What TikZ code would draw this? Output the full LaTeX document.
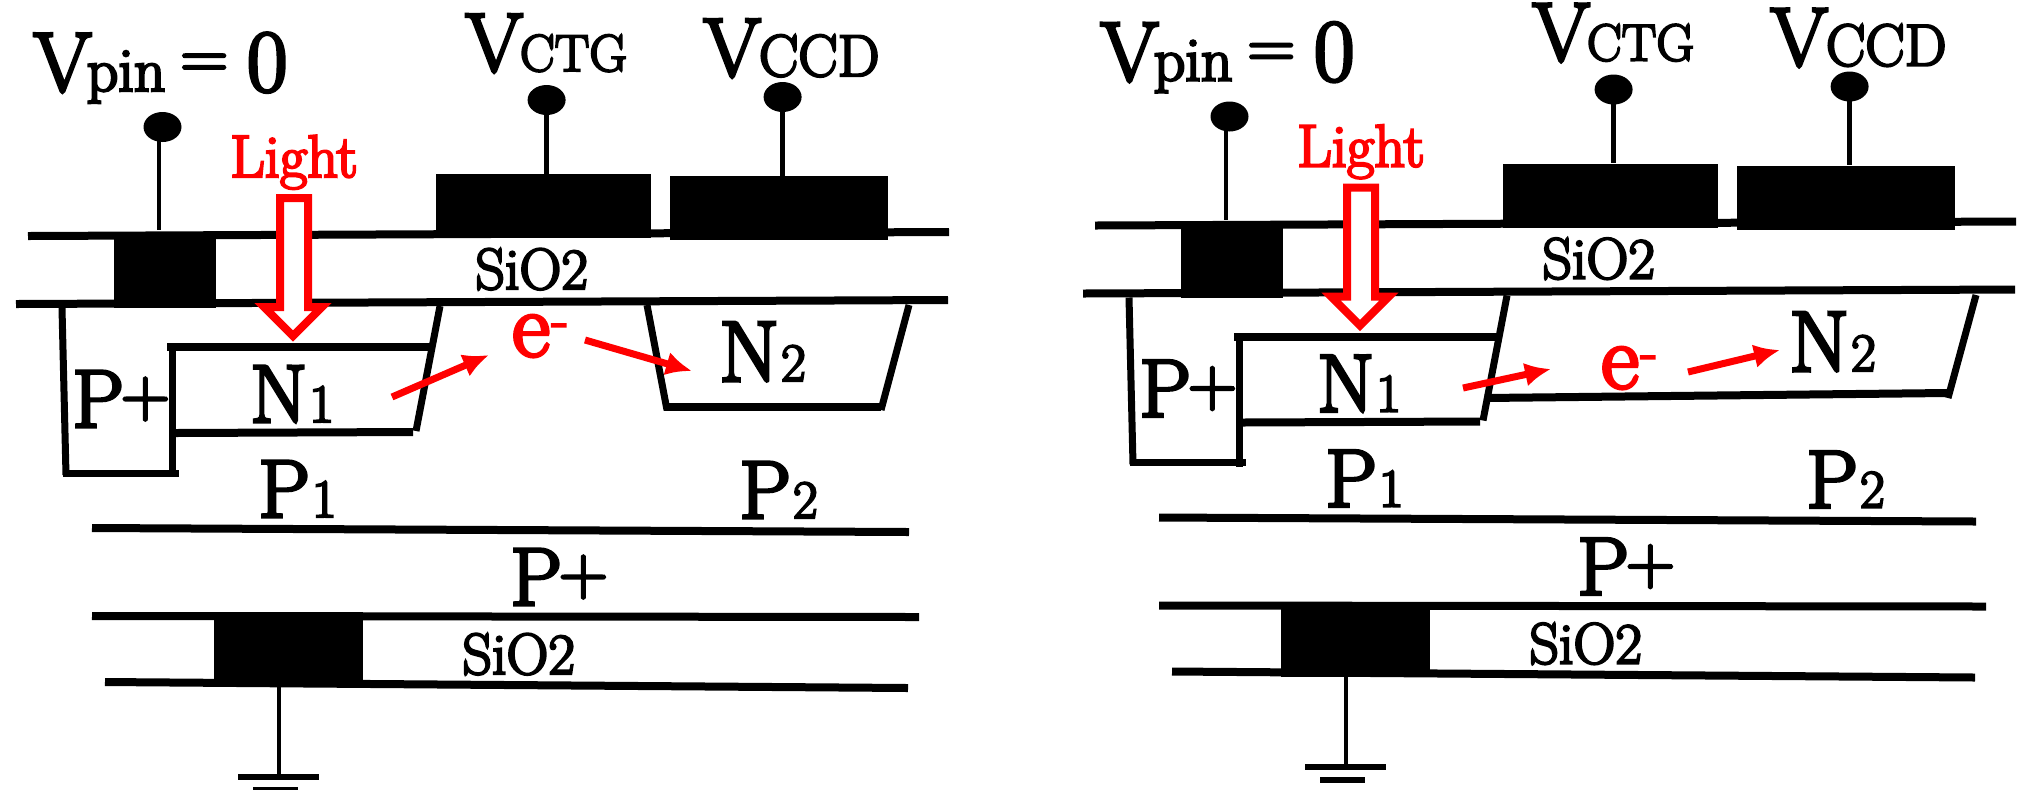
\documentclass[tikz,border=0pt]{standalone}
\usepackage{fontspec}
\setmainfont{Latin Modern Roman}
\newfontfamily\fb{Latin Modern Roman}[FakeBold=4]
\usetikzlibrary{arrows.meta,shapes.geometric}
\newcommand{\fs}[1]{\fontsize{#1}{#1}\selectfont}
\newcommand{\Pplus}{P\kern-1.5pt\raisebox{5.5pt}{\fs{34}+}}
\newcommand{\elec}{{\fs{46}e}\kern1pt\raisebox{9.5pt}{\fs{27}-}}
\tikzset{
  x=0.5pt,y=-0.5pt,
  oxide/.style={line width=4pt},
  wall/.style={line width=3.5pt},
  wire/.style={line width=2.2pt},
  gate/.style={fill=black,draw=none,inner sep=0pt,rectangle},
  dot/.style={ellipse,fill=black,draw=none,inner sep=0pt,minimum width=19pt,minimum height=15pt},
  lbl/.style={anchor=base west,inner sep=0pt,text=black,font=\fb\fs{41}},
  sub/.style={lbl,font=\fb\fs{27}},
  ox/.style={lbl,font=\fb\fs{29}},
  redtxt/.style={lbl,text=red},
  flow/.style={draw=red,line width=3.5pt,-{Latex[length=13pt,width=12pt]}},
  lightarrow/.style={draw=red,line width=4pt,fill=white,miter limit=10}
}
\newcommand{\panel}[1]{%
  % oxide and substrate lines
  \coordinate (#1ta) at (28,236); \coordinate (#1tb) at (949,232);
  \coordinate (#1ma) at (16,304); \coordinate (#1mb) at (948,300);
  \draw[oxide] (#1ta) -- (#1tb);
  \draw[oxide] (#1ma) -- (#1mb);
  % gates
  \node[gate,minimum width=51pt,minimum height=38pt] (#1pinb) at (164.5,270) {};
  \node[gate,minimum width=107.75pt,minimum height=32pt] (#1ctgb) at (543.25,206) {};
  \node[gate,minimum width=109pt,minimum height=32pt] (#1ccdb) at (779,208) {};
  \node[dot] (#1pind) at (162.5,127) {};
  \node[dot] (#1ctgd) at (546.6,100) {};
  \node[dot] (#1ccdd) at (782.6,97) {};
  \coordinate (#1pine) at (159,230);
  \draw[wire] (#1pind.center -| #1pine) -- (#1pine);
  \draw[wire] (#1ctgd.center) -- (#1ctgd.center |- #1ctgb.north);
  \draw[wire] (#1ccdd.center) -- (#1ccdd.center |- #1ccdb.north);
  % labels
  \node[lbl,font=\fb\fs{42}] (#1vpin) at (33,91) {V\kern-2.5pt{\fs{31}pin}\kern7.5pt\raisebox{6.5pt}{\fs{33}=}\kern9.5pt{\fs{44}0}};
  \node[lbl,font=\fb\fs{41.5}] (#1vctg) at (465,71) {V\kern-1.5pt{\fs{26}CTG}};
  \node[lbl,font=\fb\fs{41.5}] (#1vccd) at (703,76) {V\kern-1pt{\fs{29.5}CCD}};
  \node[redtxt,font=\fb\fs{30},anchor=base] (#1light) at (294,177) {Light};
  \node[ox] (#1sioa) at (475,289) {SiO2};
  % light arrow
  \draw[lightarrow] (280,198) -- (308,198) -- (308,307) -- (322,307) -- (293,336) -- (264,307) -- (280,307) -- cycle;
  % N1 and P+ wells
  \coordinate (#1na) at (167,347); \coordinate (#1nb) at (430,347);
  \coordinate (#1nc) at (172,347); \coordinate (#1nd) at (172,477);
  \coordinate (#1ne) at (175,433); \coordinate (#1nf) at (413,432);
  \coordinate (#1pa) at (62,308); \coordinate (#1pb) at (66,475);
  \coordinate (#1pc) at (63,473); \coordinate (#1pd) at (179,473);
  \coordinate (#1sa) at (440,306); \coordinate (#1sb) at (416,431);
  \draw[oxide] (#1na) -- (#1nb);
  \draw[wall] (#1nc) -- (#1nd);
  \draw[oxide] (#1ne) -- (#1nf);
  \draw[wall] (#1pa) -- (#1pb);
  \draw[wall] (#1pc) -- (#1pd);
  \draw[wall] (#1sa) -- (#1sb);
  \node[lbl] (#1pplusa) at (72,427) {\Pplus};
  \node[lbl] (#1nl) at (250,422) {N\kern1pt{\fs{27}1}};
  \node[lbl] (#1pl) at (258,517) {P\kern1pt{\fs{27}1}};
  \node[lbl] (#1pr) at (739,518) {P\kern1pt{\fs{27}2}};
  \node[lbl] (#1pplusb) at (510,605) {\Pplus};
  % lower layers
  \coordinate (#1la) at (92,528); \coordinate (#1lb) at (909,532);
  \coordinate (#1lc) at (92,616); \coordinate (#1ld) at (919,617);
  \coordinate (#1le) at (105,682); \coordinate (#1lf) at (908,688);
  \draw[oxide] (#1la) -- (#1lb);
  \draw[oxide] (#1lc) -- (#1ld);
  \draw[oxide] (#1le) -- (#1lf);
  \node[gate,minimum width=74.5pt,minimum height=37.5pt] (#1lowb) at (288.5,649.5) {};
  \node[ox] (#1siob) at (462,674) {SiO2};
  % ground
  \coordinate (#1g) at (279,777);
  \coordinate (#1ga) at (238,777); \coordinate (#1gb) at (319,777);
  \coordinate (#1gc) at (253,790); \coordinate (#1gd) at (298,790);
  \draw[wire] (#1g |- #1lowb.south) -- (#1g);
  \draw[line width=3pt] (#1ga) -- (#1gb);
  \draw[line width=3pt] (#1gc) -- (#1gd);
}
\begin{document}
\begin{tikzpicture}
\useasboundingbox (0,0) rectangle (2023,789);
\panel{l}
% left N2 well
\coordinate (n2a) at (647,305); \coordinate (n2b) at (667,410);
\coordinate (n2c) at (664,407); \coordinate (n2d) at (881,407);
\coordinate (n2e) at (909,305); \coordinate (n2f) at (881,410);
\draw[wall] (n2a) -- (n2b);
\draw[oxide] (n2c) -- (n2d);
\draw[wall] (n2e) -- (n2f);
\node[lbl,font=\fb\fs{43}] (ln2) at (719,381) {N\kern1pt{\fs{27}2}};
\node[redtxt] (le) at (512,356) {\elec};
\coordinate (a1s) at (392,397); \coordinate (a1t) at (489,355);
\coordinate (a2s) at (585,340); \coordinate (a2t) at (692,371);
\draw[flow] (a1s) -- (a1t);
\draw[flow] (a2s) -- (a2t);
\begin{scope}[shift={(1067,-10.5)}]
\panel{r}
\end{scope}
% right N2 well
\coordinate (m2c) at (1485,398); \coordinate (m2d) at (1947,393);
\coordinate (m2e) at (1976,295); \coordinate (m2f) at (1948,398);
\draw[oxide] (m2c) -- (m2d);
\draw[wall] (m2e) -- (m2f);
\node[lbl,font=\fb\fs{43}] (rn2) at (1789,371) {N\kern1pt{\fs{27}2}};
\node[redtxt] (re) at (1601,388) {\elec};
\coordinate (b1s) at (1463,388); \coordinate (b1t) at (1551,369);
\coordinate (b2s) at (1688,372); \coordinate (b2t) at (1780,350);
\draw[flow] (b1s) -- (b1t);
\draw[flow] (b2s) -- (b2t);
\end{tikzpicture}
\end{document}
